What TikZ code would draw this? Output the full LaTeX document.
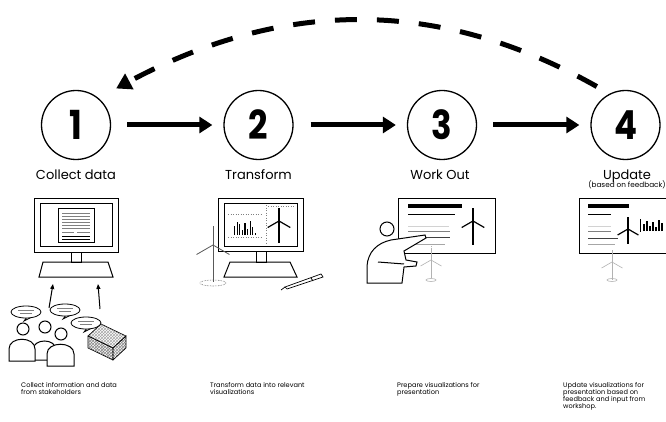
\documentclass[tikz,border=0pt]{standalone}
\usepackage{fontspec}
\setmainfont{Poppins}
\usetikzlibrary{arrows.meta,positioning,patterns,calc}

% small wind turbine: [style]{x}{hub y}{blade}{tower}
\newcommand{\windturbine}[5][]{%
  \begin{scope}[shift={(#2,#3)},#1]
    \draw (0,0) -- (0,#5);
    \foreach \a in {-90,30,150} \draw (0,0) -- (\a:#4);
  \end{scope}}

\tikzset{
  stepcircle/.style={draw, circle, line width=1.3pt, minimum size=69pt, inner sep=0pt,
    font=\fontsize{40}{40}\selectfont\bfseries},
  flowarrow/.style={line width=5pt, -{Triangle[length=13pt,width=16pt]}},
  backarrow/.style={line width=5pt, dash pattern=on 22pt off 20pt,
    -{Triangle[length=15pt,width=17pt]}},
  steplabel/.style={anchor=base, inner sep=0pt, font=\fontsize{13}{13}\selectfont},
  desc/.style={anchor=north west, align=left, inner sep=0pt,
    font=\fontsize{6.6}{7.2}\selectfont},
  art/.style={line width=1pt},
  faint/.style={gray!60, line width=0.6pt},
}

\begin{document}
\begin{tikzpicture}[x=1pt,y=-1pt]
  \useasboundingbox[fill=white] (0,0) rectangle (666,422);

  \node[stepcircle] (c1) at (76,125) {\scalebox{0.85}[1]{1}};
  \node[stepcircle] (c2) at (258.5,125) {\scalebox{0.85}[1]{2}};
  \node[stepcircle] (c3) at (442,125) {\scalebox{0.85}[1]{3}};
  \node[stepcircle] (c4) at (625.5,125) {\scalebox{0.85}[1]{4}};

  \draw[flowarrow, shorten <=16pt, shorten >=11pt] (c1) -- (c2);
  \draw[flowarrow, shorten <=17pt, shorten >=11pt] (c2) -- (c3);
  \draw[flowarrow, shorten <=16pt, shorten >=11pt] (c3) -- (c4);
  \draw[backarrow] ([shift={(-8,-10)}]c4.126) .. controls (440,-2) and (285,-2)
    .. ([shift={(14,-13)}]c1.42);

  \node[steplabel] (l1) at (76,180) {Collect data};
  \node[steplabel] (l2) at (258.5,180) {Transform};
  \node[steplabel] (l3) at (440,180) {Work Out};
  \node[steplabel] (l4) at (627,179) {Update};
  \node[anchor=base, inner sep=0pt, font=\fontsize{7.3}{7.3}\selectfont] (l4b) at (627,188) {(based on feedback)};

  % monitor with document
  \draw[art] (34,198) rectangle (118,252);
  \draw[art] (40,203) rectangle (112,246);
  \draw[art] (58,208) rectangle (94,242);
  \foreach \y in {213,216,...,228} \draw[gray, line width=0.5pt] (62,\y) -- (90,\y);
  \draw[gray, line width=0.5pt] (62,232) -- (74,232) (77,232) -- (90,232);
  \draw[line width=0.7pt] (62,236) -- (90,236) (62,239) -- (90,239);
  \draw[art] (71,252) rectangle (81,262);
  \draw[art] (43,262) -- (108,262) -- (113,277) -- (39,277) -- cycle;
  \draw[art, -{Triangle[length=5pt,width=4pt]}] (49,308) -- (53,284);
  \draw[art, -{Triangle[length=5pt,width=4pt]}] (100,309) -- (98,284);

  % stakeholders
  \foreach \x/\y in {26/312, 65/310, 86/323} {
    \draw[line width=0.8pt] (\x+1,\y+5) -- (\x-2,\y+9) -- (\x+6,\y+5);
    \draw[line width=0.8pt, fill=white] (\x,\y) ellipse [x radius=15, y radius=6];
    \draw[gray, line width=0.6pt] (\x-8,\y-1.5) -- (\x+8,\y-1.5) (\x-6,\y+1.5) -- (\x+6,\y+1.5);
  }
  \draw[art, fill=white] (33,360) -- (33,350) .. controls (33,338) and (56,338) .. (56,350) -- (56,360) -- cycle;
  \draw[art, fill=white] (45,327) circle (6);
  \draw[art, fill=white] (9,361) -- (9,349) .. controls (9,336) and (35,336) .. (35,349) -- (35,361) -- cycle;
  \draw[art, fill=white] (23,329) circle (6);
  \draw[art, fill=white] (47,366) -- (47,354) .. controls (47,341) and (74,341) .. (74,354) -- (74,366) -- cycle;
  \draw[art, fill=white] (61,334) circle (6);

  % paper stack
  \draw[line width=0.6pt, pattern=crosshatch, pattern color=gray!70] (88,336) -- (101,324) -- (126,336) -- (113,348) -- cycle;
  \draw[line width=0.6pt, pattern=crosshatch, pattern color=gray] (88,336) -- (113,348) -- (113,360) -- (88,348) -- cycle;
  \draw[line width=0.6pt, pattern=crosshatch, pattern color=gray] (113,348) -- (126,336) -- (126,348) -- (113,360) -- cycle;
  \foreach \y in {339,342,345} \draw[gray!60, line width=0.4pt] (88,\y) -- (113,\y+12) -- (126,\y);

  % monitor with chart
  \draw[art] (218,198) rectangle (303,251);
  \draw[art] (224,203) rectangle (297,246);
  \draw[gray, dotted, line width=0.5pt] (266,205) -- (266,244);
  \draw[gray, dotted, line width=0.5pt] (228,214) -- (262,214) (228,237) -- (262,237) (268,206) -- (295,206);
  \foreach \h [count=\i] in {9,13,11,5,12,6,14,8,2}
    \draw[line width=1.1pt] ({232+\i*2.6},235) -- ++(0,-\h);
  \windturbine[line width=1.2pt]{279}{221}{13}{22}
  \draw[art] (256,251) rectangle (266,262);
  \draw[art] (230,262) -- (290,262) -- (297,277) -- (224,277) -- cycle;
  \windturbine[gray!70!black, line width=0.8pt]{213}{245}{19}{37}
  \draw[gray!70!black, line width=0.6pt, densely dotted] (213,283) ellipse [x radius=13, y radius=3];
  \draw[line width=0.7pt, fill=white] (285,287) -- (321,274) -- (323,277) -- (287,289) -- cycle;
  \draw[line width=0.7pt] (281,290) -- (285,287) (311,278) -- (313,281);

  % board and presenter
  \draw[art] (398,198) rectangle (495,253);
  \fill (408,204) rectangle (462,208);
  \draw[line width=0.8pt] (408,214) -- (455,214);
  \draw[gray!35, line width=1pt] (408,226) -- (449,226);
  \draw[gray, line width=1pt] (408,231) -- (450,231);
  \draw[gray!50!black, line width=1pt] (408,237) -- (450,237);
  \draw[gray!70, line width=1pt] (408,244) -- (445,244);
  \windturbine[line width=1.2pt]{473}{221}{13}{24}
  \draw[faint, densely dotted] (431,246) -- (431,260);
  \windturbine[faint]{431}{260}{12}{18}
  \draw[faint] (431,280) ellipse [x radius=5, y radius=1.5];
  \filldraw[art, fill=white, draw=black] (387,229) circle (7);
  \filldraw[art, fill=white, draw=black] (367,283) -- (367,266)
    .. controls (368,252) and (377,243) .. (391,240)
    -- (425,235) -- (426,238) -- (404,251) -- (406,260) -- (417,262) -- (416,266)
    -- (404,267) -- (402,283) -- cycle;
  \draw[art] (378,262) -- (404,264);

  % updated board
  \draw[art] (579,198) rectangle (690,253);
  \fill (588,204) rectangle (629,208);
  \draw[line width=0.8pt] (588,214) -- (611,214);
  \draw[gray!35, line width=1pt] (588,226) -- (611,226);
  \draw[gray, line width=1pt] (588,231) -- (611,231);
  \draw[gray!50!black, line width=1pt] (588,238) -- (618,238);
  \draw[gray!70, line width=1pt] (588,244) -- (615,244);
  \windturbine[line width=1.2pt]{628}{229}{12}{15}
  \draw[line width=0.6pt] (640,219) -- (640,232);
  \foreach \h [count=\i] in {7,10,5,9,4,11,8}
    \draw[line width=1.1pt] ({641+\i*3},231) -- ++(0,-\h);
  \draw[faint, densely dotted] (612,250) -- (612,262);
  \windturbine[faint]{612}{262}{12}{18}
  \draw[faint] (612,280) ellipse [x radius=5, y radius=1.5];

  \node[desc] (d1) at (21,382) {Collect information and data\\from stakeholders};
  \node[desc] (d2) at (210,382) {Transform data into relevant\\visualizations};
  \node[desc] (d3) at (397,382) {Prepare visualizations for\\presentation};
  \node[desc] (d4) at (563,382) {Update visualizations for\\presentation based on\\feedback and input from\\workshop.};
\end{tikzpicture}
\end{document}
